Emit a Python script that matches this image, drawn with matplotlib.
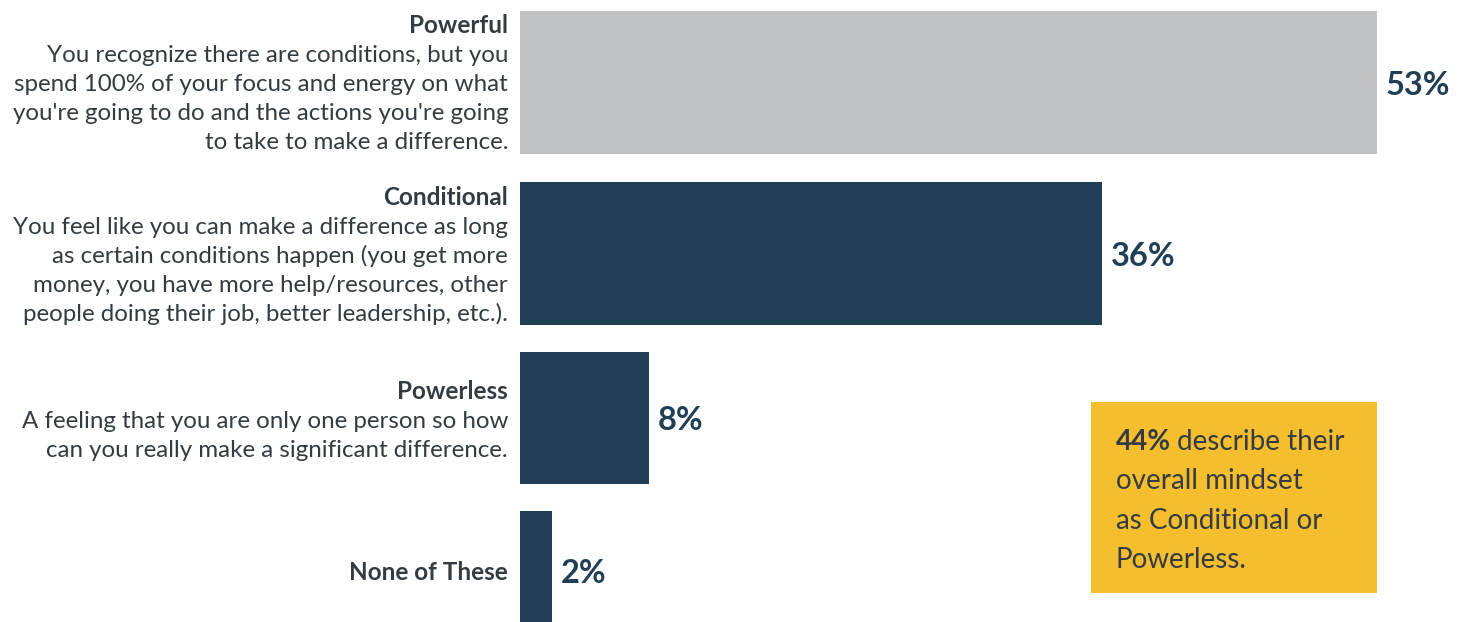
import matplotlib
matplotlib.use("Agg")
import matplotlib.pyplot as plt
from matplotlib.patches import Rectangle

plt.rcParams["font.family"] = ["Lato", "DejaVu Sans"]

# data
categories = ["Powerful", "Conditional", "Powerless", "None of These"]
descriptions = [
    ["You recognize there are conditions, but you",
     "spend 100% of your focus and energy on what",
     "you're going to do and the actions you're going",
     "to take to make a difference."],
    ["You feel like you can make a difference as long",
     "as certain conditions happen (you get more",
     "money, you have more help/resources, other",
     "people doing their job, better leadership, etc.)."],
    ["A feeling that you are only one person so how",
     "can you really make a significant difference."],
    [],
]
values = [53, 36, 8, 2]
callout_bold = "44%"
callout_lines = ["describe their", "overall mindset", "as Conditional or", "Powerless."]

GRAY = "#c1c2c4"
NAVY = "#213f54"
TEXT = "#343c42"
YELLOW = "#f5be2e"

W, H = 1462, 622
fig = plt.figure(figsize=(W / 100, H / 100), dpi=100)
px_per_pct = (1377 - 520) / 53.0
ax = fig.add_axes([520 / W, 0, 1 - 520 / W, 1])
ax.set_xlim(0, (W - 520) / px_per_pct)
ax.set_ylim(H, 0)
ax.axis("off")

# layout in pixels (top of each bar, bar height); last bar runs off the bottom
bar_tops = [11, 182, 352, 511]
bar_h = [143, 143, 132, 120]
colors = [GRAY, NAVY, NAVY, NAVY]

for i, v in enumerate(values):
    yc = bar_tops[i] + bar_h[i] / 2
    ax.barh(yc, v, height=bar_h[i], color=colors[i], left=0, clip_on=True)
    ax.annotate(f"{v}%", (v, yc), xytext=(6, -2), textcoords="offset points",
                ha="left", va="center", fontsize=23.5, fontweight="bold", color=NAVY)

# left labels (baselines in pixels)
title_base = [33, 205, 399, 580]
line_gap = 29
for i, cat in enumerate(categories):
    fig.text(508 / W, 1 - title_base[i] / H, cat, ha="right", va="baseline",
             fontsize=17.5, fontweight="bold", color=TEXT)
    for k, line in enumerate(descriptions[i]):
        fig.text(508 / W, 1 - (title_base[i] + line_gap * (k + 1)) / H, line,
                 ha="right", va="baseline", fontsize=17.4, color=TEXT)

# callout box
fig.patches.append(Rectangle((1091 / W, 1 - 593 / H), (1377 - 1091) / W, (593 - 402) / H,
                             transform=fig.transFigure, facecolor=YELLOW, edgecolor="none"))
line_base = [450, 489, 529, 568]
t = fig.text(1116 / W, 1 - line_base[0] / H, callout_bold, ha="left", va="baseline",
             fontsize=20, fontweight="bold", color=TEXT)
fig.canvas.draw()
bb = t.get_window_extent()
fig.text((bb.x1 + 6) / W, 1 - line_base[0] / H, callout_lines[0], ha="left", va="baseline",
         fontsize=20, color=TEXT)
for j in range(1, len(callout_lines)):
    fig.text(1116 / W, 1 - line_base[j] / H, callout_lines[j], ha="left", va="baseline",
             fontsize=20, color=TEXT)

fig.savefig("out.png", dpi=100)
